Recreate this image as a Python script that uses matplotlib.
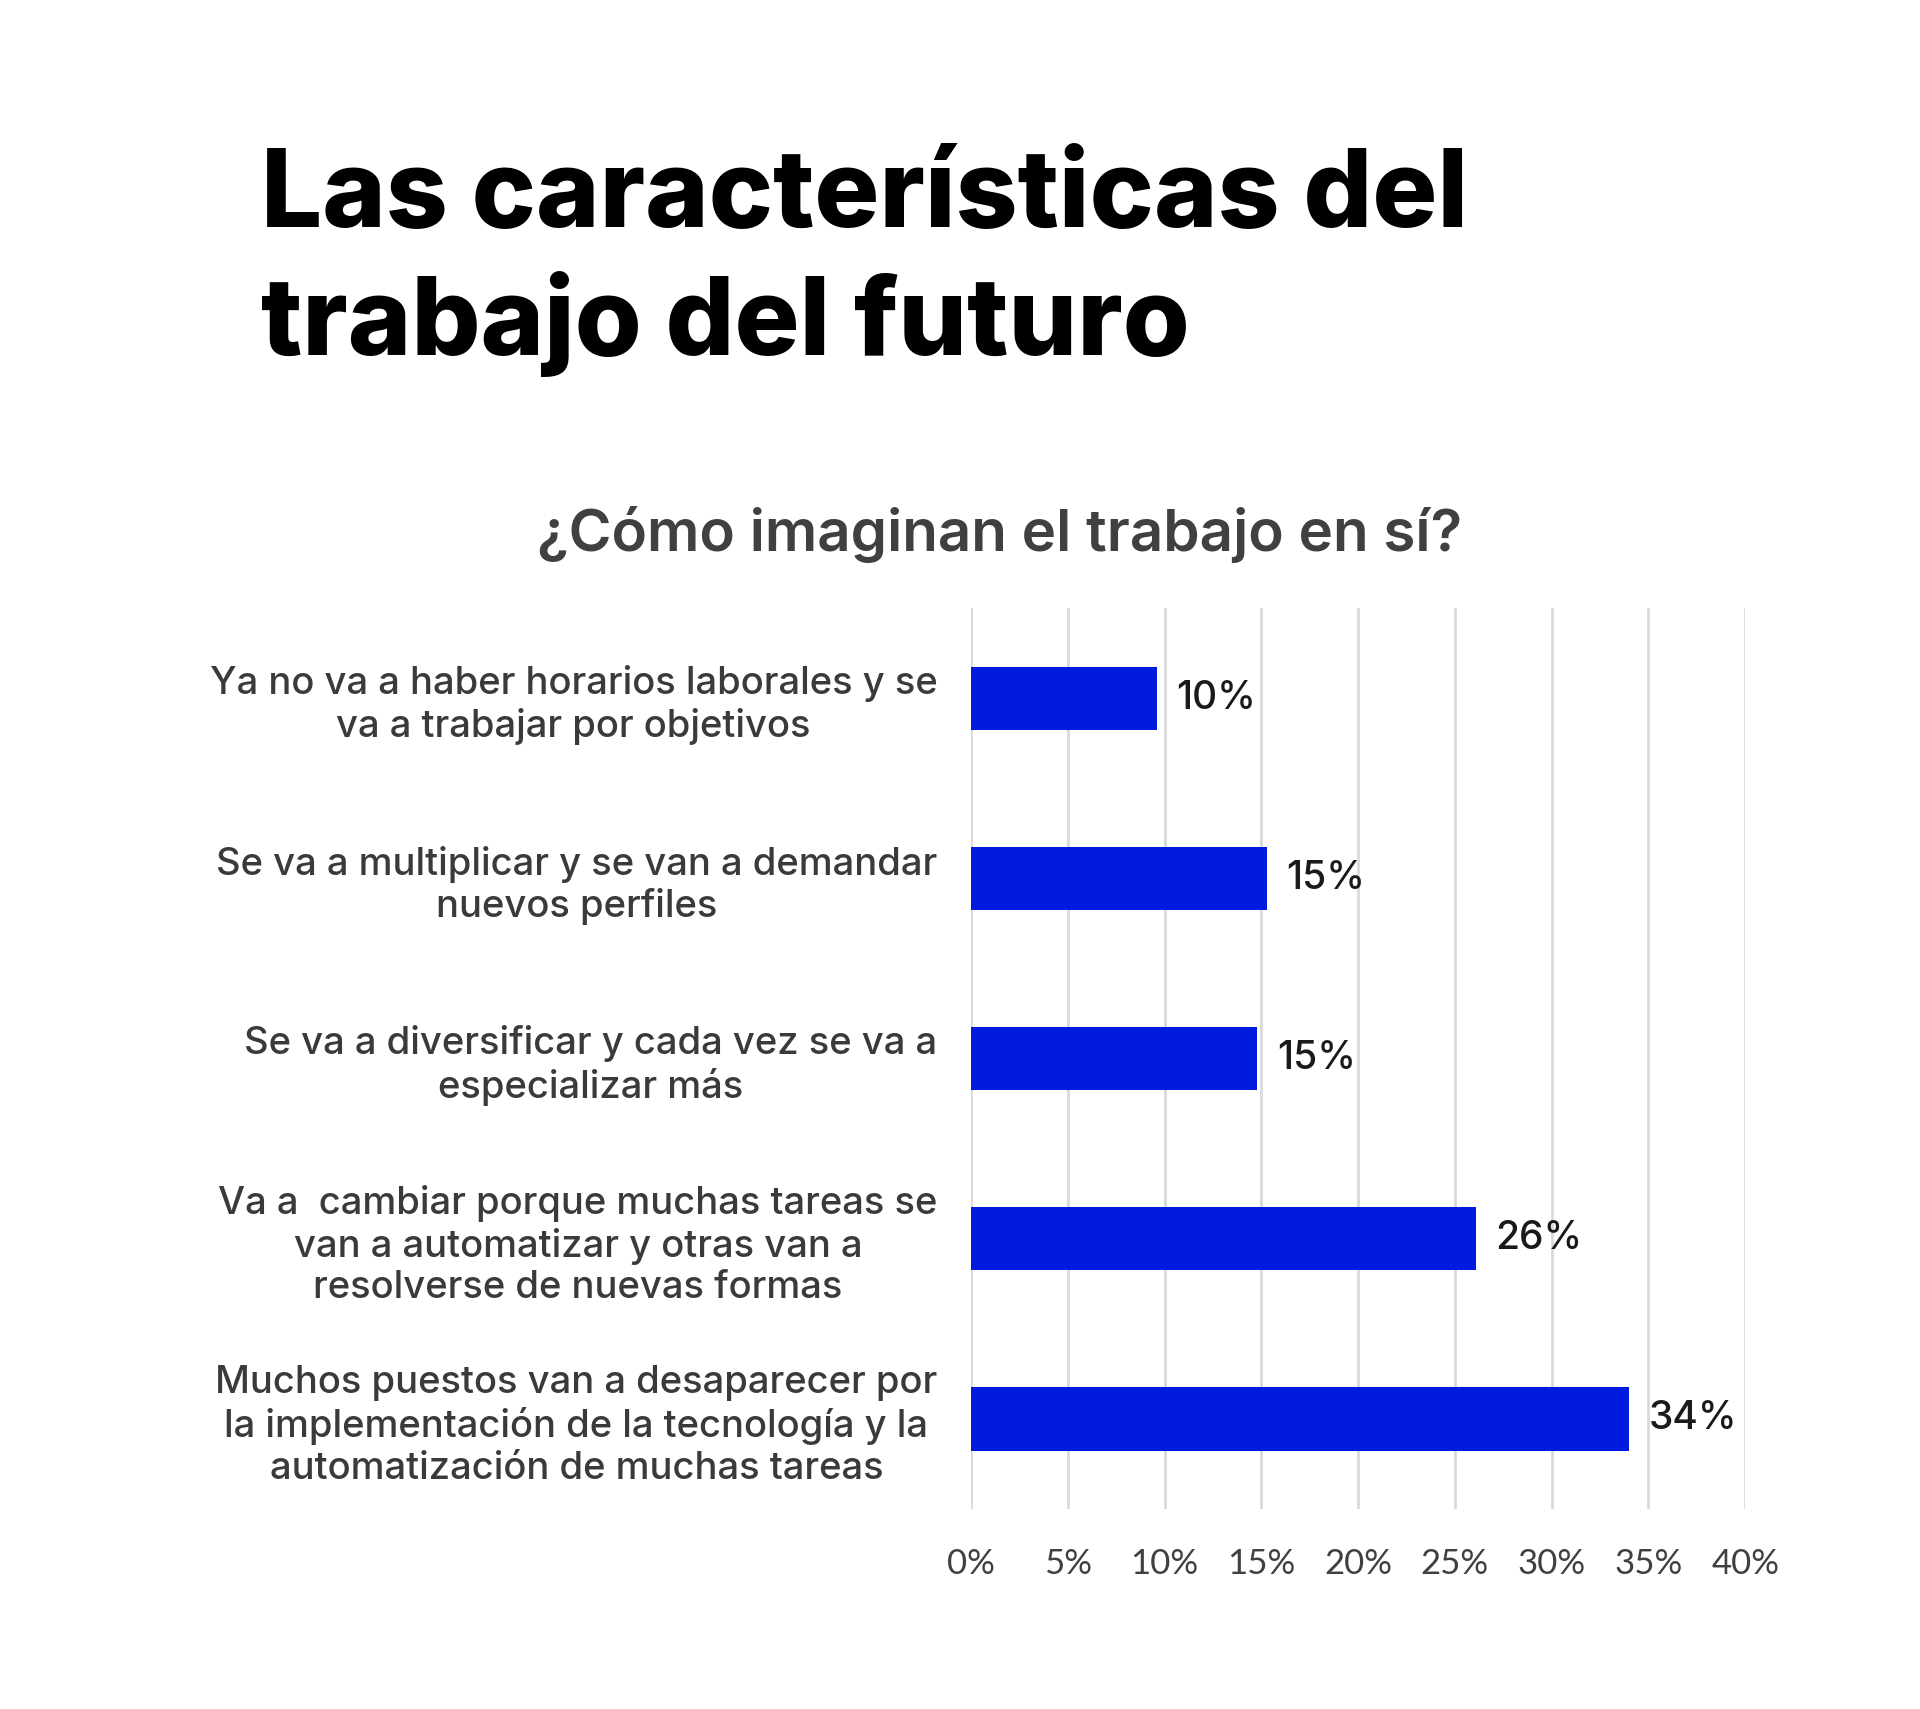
import matplotlib.pyplot as plt
import numpy as np

categories = [
    'Ya no va a haber horarios laborales y se\nva a trabajar por objetivos',
    'Se va a multiplicar y se van a demandar\nnuevos perfiles',
    'Se va a diversificar y cada vez se va a\nespecializar más',
    'Va a  cambiar porque muchas tareas se\nvan a automatizar y otras van a\nresolverse de nuevas formas',
    'Muchos puestos van a desaparecer por\nla implementación de la tecnología y la\nautomatización de muchas tareas',
]
values = [9.6, 15.3, 14.8, 26.1, 34.0]
value_labels = ['10%', '15%', '15%', '26%', '34%']
xticks = [0, 5, 10, 15, 20, 25, 30, 35, 40]
xtick_labels = ['0%', '5%', '10%', '15%', '20%', '25%', '30%', '35%', '40%']

plt.rcParams['font.family'] = ['Inter', 'DejaVu Sans']

fig = plt.figure(figsize=(19.2, 17.09), dpi=100)
ax = fig.add_axes([0.5057, 0.117, 0.4033, 0.527])

y = np.arange(len(values))
bars = ax.barh(y, values, height=0.35, color='#001ADF', zorder=3)
ax.set_ylim(len(values) - 0.5, -0.5)
ax.set_xlim(0, 40)

ax.set_xticks(xticks, xtick_labels)
ax.set_yticks(y, categories)
for lbl in ax.get_yticklabels():
    lbl.set_multialignment('center')
    lbl.set_linespacing(1.2)
    lbl.set_fontweight('medium')
ax.tick_params(axis='y', length=0, pad=24, labelsize=27.5, labelcolor='#3a3a3a')
ax.tick_params(axis='x', length=0, pad=28, labelsize=25, labelcolor='#404040')
for lbl in ax.get_xticklabels():
    lbl.set_family(['Lato', 'DejaVu Sans'])

ax.grid(axis='x', color='#d9d9d9', linewidth=2, zorder=0)
for s in ax.spines.values():
    s.set_visible(False)

ax.bar_label(bars, labels=value_labels, padding=14, fontsize=28,
             fontweight='medium', color='#1a1a1a')

fig.text(0.136, 0.867, 'Las características del', fontsize=78, fontweight='heavy',
         color='black', va='baseline', ha='left')
fig.text(0.136, 0.792, 'trabajo del futuro', fontsize=78, fontweight='heavy',
         color='black', va='baseline', ha='left')
fig.text(0.5205, 0.687, '¿Cómo imaginan el trabajo en sí?', fontsize=42,
         fontweight='semibold', color='#404040', va='center', ha='center')

fig.savefig('out.png', dpi=100, facecolor='white')
